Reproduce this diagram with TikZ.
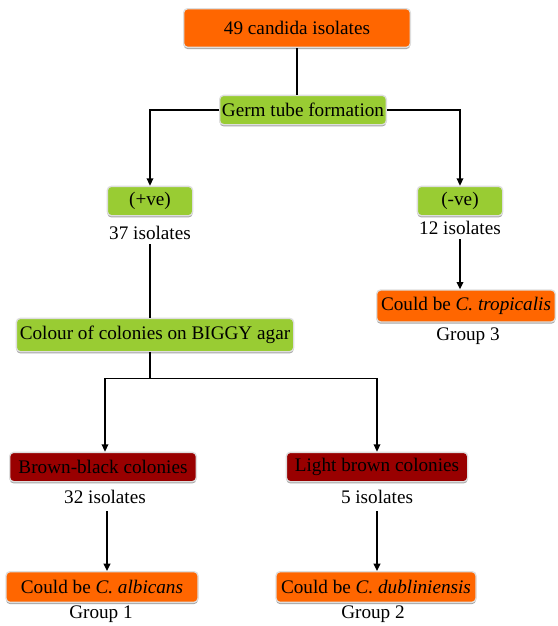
\documentclass[tikz,border=0pt]{standalone}
\usepackage{fontspec}
\setmainfont{Liberation Serif}
\definecolor{boxorange}{RGB}{255,102,0}
\definecolor{boxgreen}{RGB}{153,204,51}
\definecolor{boxred}{RGB}{153,0,0}
\definecolor{boxrim}{RGB}{222,222,222}
\usetikzlibrary{arrows.meta, shadows, positioning}

\tikzset{
	box/.style={draw=boxrim, line width=1pt, rounded corners=3pt, inner sep=1pt,
		font=\fontsize{14.4}{16}\selectfont,
		drop shadow={shadow xshift=0pt, shadow yshift=-1.3pt, fill=black, opacity=0.35}},
	orangebox/.style={box, fill=boxorange},
	greenbox/.style={box, fill=boxgreen},
	redbox/.style={box, fill=boxred},
	count/.style={inner sep=1pt, font=\fontsize{14.4}{16}\selectfont},
	link/.style={line width=1.1pt},
	arrow/.style={line width=1.1pt, -{Triangle[length=5.5pt,width=5pt]}}
}

\begin{document}
\begin{tikzpicture}[x=0.75pt,y=-0.75pt]
				\useasboundingbox (0,0) rectangle (558,626);
				
				\node[orangebox,minimum width=170pt,minimum height=29pt] (all) at (297,28) {49 candida isolates};
				\node[greenbox,minimum width=125pt,minimum height=22pt] (germ) at (303,110) {Germ tube formation};
				
				\node[greenbox,minimum width=64pt,minimum height=22pt] (pos) at (150,201) {(+ve)};
				\node[count] (n37) at (150,233) {37 isolates};
				\node[greenbox,minimum width=64pt,minimum height=22pt] (neg) at (460,201) {(-ve)};
				\node[count] (n12) at (460,228) {12 isolates};
				
				\node[orangebox,minimum width=134pt,minimum height=24pt] (trop) at (466,306) {Could be \textit{C. tropicalis}};
				\node[count] (g3) at (468,336) {Group 3};
				
				\node[greenbox,minimum width=208pt,minimum height=25pt] (biggy) at (155,335) {Colour of colonies on BIGGY agar};
				
				\node[redbox,minimum width=140pt,minimum height=22pt] (bb) at (103,467) {Brown-black colonies};
				\node[count] (n32) at (105,497) {32 isolates};
				\node[redbox,minimum width=136pt,minimum height=22pt] (lb) at (377,467) {Light brown colonies};
				\node[count] (n5) at (377,497) {5 isolates};
				
				\node[orangebox,minimum width=144pt,minimum height=23pt] (alb) at (102,587) {Could be \textit{C. albicans}};
				\node[count] (g1) at (101,614) {Group 1};
				\node[orangebox,minimum width=150pt,minimum height=23pt] (dub) at (376,587) {Could be \textit{C. dubliniensis}};
				\node[count] (g2) at (373,614) {Group 2};
				
				\draw[link]      (all) -- (all |- germ.north);
				\draw[arrow]     (germ.west) -| (pos.north);
				\draw[arrow]     (germ.east) -| (neg.north);
				\draw[arrow]     (n12.south) ++(0,3) -- (n12.south |- trop.north);
				\draw[link]      (n37.south) ++(0,3) -- (n37.south |- biggy.north);
				\draw[link]      (n37.south |- biggy.south) -- ++(0,26) coordinate (split);
				\draw[arrow]     (split) -| (105,0 |- bb.north);
				\draw[arrow]     (split) -| (lb.north);
				\draw[arrow]     (n32.south) ++(2,6) -- (alb.north -| 107,0);
				\draw[arrow]     (n5.south) ++(0,6) -- (n5.south |- dub.north);
			\end{tikzpicture}
\end{document}
